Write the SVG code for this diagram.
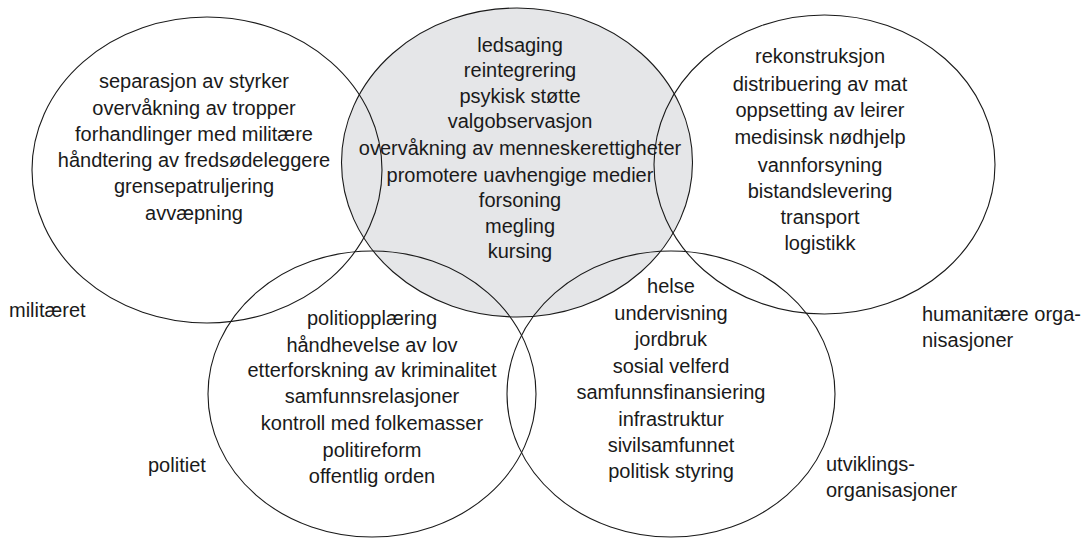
<svg xmlns="http://www.w3.org/2000/svg" width="1085" height="538" viewBox="0 0 1085 538">
<style>
  .ring { fill: none; stroke: #1a1a1a; stroke-width: 1.1; }
  .shade { fill: #e5e6e8; stroke: #1a1a1a; stroke-width: 1.1; }
  text { font-family: "Liberation Sans", Arial, sans-serif; font-size: 20px; fill: #1a1a1a; }
  .c { text-anchor: middle; }
</style>
<rect width="1085" height="538" fill="#ffffff"/>
<g id="connectors"/>
<g id="shared">
  <ellipse class="shade" cx="517" cy="162.5" rx="175.5" ry="154.5"/>
  <text class="c" x="520" y="52">ledsaging</text>
  <text class="c" x="520" y="77">reintegrering</text>
  <text class="c" x="520" y="103">psykisk støtte</text>
  <text class="c" x="520" y="128">valgobservasjon</text>
  <text class="c" x="520" y="155">overvåkning av menneskerettigheter</text>
  <text class="c" x="520" y="182">promotere uavhengige medier</text>
  <text class="c" x="520" y="207">forsoning</text>
  <text class="c" x="520" y="233">megling</text>
  <text class="c" x="520" y="258">kursing</text>
</g>
<g id="military">
  <ellipse class="ring" cx="207" cy="170" rx="175" ry="153"/>
  <text class="c" x="194" y="88">separasjon av styrker</text>
  <text class="c" x="194" y="115">overvåkning av tropper</text>
  <text class="c" x="194" y="141">forhandlinger med militære</text>
  <text class="c" x="194" y="167">håndtering av fredsødeleggere</text>
  <text class="c" x="194" y="193">grensepatruljering</text>
  <text class="c" x="194" y="220">avvæpning</text>
  <text x="9" y="317">militæret</text>
</g>
<g id="humanitarian">
  <ellipse class="ring" cx="824.5" cy="164.5" rx="170.5" ry="149.5"/>
  <text class="c" x="820" y="63">rekonstruksjon</text>
  <text class="c" x="820" y="91">distribuering av mat</text>
  <text class="c" x="820" y="117">oppsetting av leirer</text>
  <text class="c" x="820" y="144">medisinsk nødhjelp</text>
  <text class="c" x="820" y="172">vannforsyning</text>
  <text class="c" x="820" y="198">bistandslevering</text>
  <text class="c" x="820" y="224">transport</text>
  <text class="c" x="820" y="250">logistikk</text>
  <text x="922" y="321">humanitære orga-</text>
  <text x="922" y="347">nisasjoner</text>
</g>
<g id="police">
  <ellipse class="ring" cx="372" cy="394" rx="164" ry="143"/>
  <text class="c" x="372" y="325">politiopplæring</text>
  <text class="c" x="372" y="352">håndhevelse av lov</text>
  <text class="c" x="372" y="377">etterforskning av kriminalitet</text>
  <text class="c" x="372" y="403">samfunnsrelasjoner</text>
  <text class="c" x="372" y="430">kontroll med folkemasser</text>
  <text class="c" x="372" y="457">politireform</text>
  <text class="c" x="372" y="483">offentlig orden</text>
  <text x="148" y="472">politiet</text>
</g>
<g id="development">
  <ellipse class="ring" cx="671" cy="394" rx="164" ry="143"/>
  <text class="c" x="671" y="293">helse</text>
  <text class="c" x="671" y="320">undervisning</text>
  <text class="c" x="671" y="346">jordbruk</text>
  <text class="c" x="671" y="373">sosial velferd</text>
  <text class="c" x="671" y="399">samfunnsfinansiering</text>
  <text class="c" x="671" y="426">infrastruktur</text>
  <text class="c" x="671" y="452">sivilsamfunnet</text>
  <text class="c" x="671" y="478">politisk styring</text>
  <text x="826" y="471">utviklings-</text>
  <text x="826" y="497">organisasjoner</text>
</g>
</svg>
